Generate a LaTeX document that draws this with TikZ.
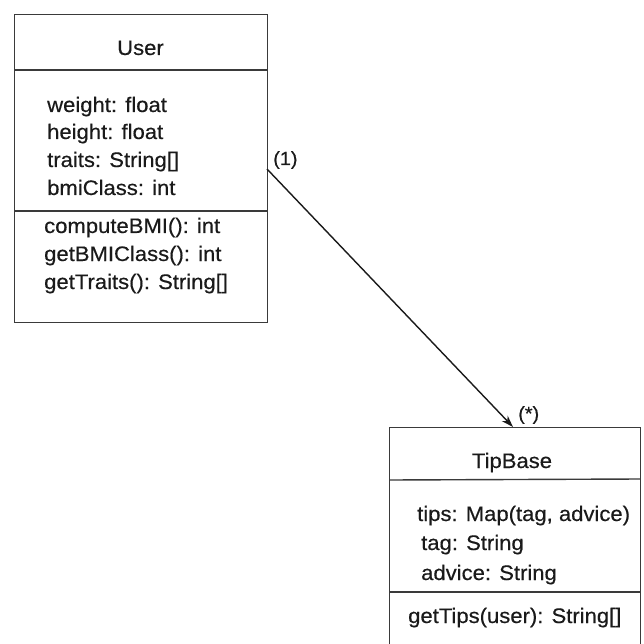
\documentclass[tikz,border=0pt]{standalone}
\usepackage{fontspec}
\setmainfont[FakeStretch=1.05,FakeBold=0.4]{Liberation Sans}
\usetikzlibrary{arrows.meta}
\definecolor{edge}{HTML}{3A3A3A}
\definecolor{ink}{HTML}{1A1A1A}
\begin{document}
\begin{tikzpicture}[x=1pt,y=-1pt,
  classbox/.style={draw=edge, line width=1.4pt, rectangle, inner sep=0pt, anchor=north west},
  sep/.style={draw=edge, line width=1.4pt},
  txt/.style={anchor=base west, inner sep=0pt, text=ink, font=\fontsize{21}{25}\selectfont},
  ttl/.style={anchor=base, inner sep=0pt, text=ink, font=\fontsize{21}{25}\selectfont},
  mult/.style={anchor=base west, inner sep=0pt, text=ink, font=\fontsize{19}{23}\selectfont},
  assoc/.style={draw=ink, line width=1.4pt, -{Stealth[length=12pt,width=8pt]}}]
\useasboundingbox (0,0) rectangle (643,644);
\clip (0,0) rectangle (643,644);
\fill[white] (0,0) rectangle (643,644);
% User class
\node[classbox, minimum width=253pt, minimum height=308pt] (user) at (14,14) {};
\coordinate (u1l) at (14,70); \coordinate (u1r) at (267,70);
\coordinate (u2l) at (14,211); \coordinate (u2r) at (267,211);
\draw[sep] (u1l) -- (u1r);
\draw[sep] (u2l) -- (u2r);
\node[ttl] (userT) at (140.5,55) {User};
\node[txt] (ua1) at (47,112) {weight: float};
\node[txt] (ua2) at (47,139) {height: float};
\node[txt] (ua3) at (47,167) {traits: String[]};
\node[txt] (ua4) at (47,195) {bmiClass: int};
\node[txt] (um1) at (44,233) {computeBMI(): int};
\node[txt] (um2) at (44,261) {getBMIClass(): int};
\node[txt] (um3) at (44,289) {getTraits(): String[]};
% TipBase class
\node[classbox, minimum width=251pt, minimum height=260pt] (tip) at (389,427) {};
\coordinate (t1l) at (389,480); \coordinate (t1r) at (640,479);
\coordinate (t2l) at (389,592); \coordinate (t2r) at (640,592);
\draw[sep] (t1l) -- (t1r);
\draw[sep] (t2l) -- (t2r);
\node[ttl] (tipT) at (512,468) {TipBase};
\node[txt] (ta1) at (417,521) {tips: Map(tag, advice)};
\node[txt] (ta2) at (421,550) {tag: String};
\node[txt] (ta3) at (421,580) {advice: String};
\node[txt] (tm1) at (408,623) {getTips(user): String[]};
% association
\coordinate (src) at (267,169);
\coordinate (dst) at (513,427);
\draw[assoc] (src) -- (dst);
\node[mult] (m1) at (273,165) {(1)};
\node[mult] (m2) at (518,420) {(*)};
\end{tikzpicture}
\end{document}
